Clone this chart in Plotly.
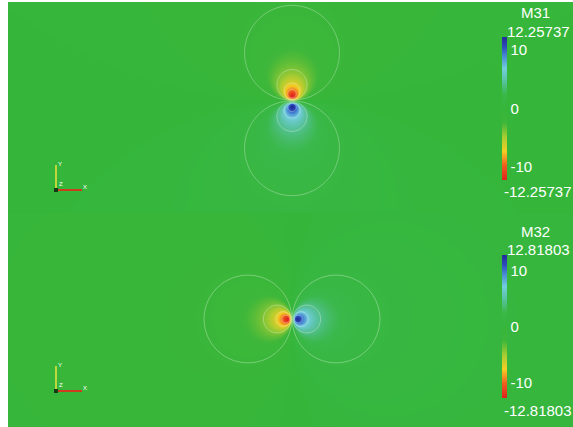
import numpy as np
import plotly.graph_objects as go

# Two dipole moment fields, each rendered as a colour map with iso-lines
FIELD_NAMES = ["M31", "M32"]
FIELD_MAX = [12.25737, 12.81803]      # symmetric data range of each field
CORE_RADIUS = [5.3, 4.9]              # regularisation radius of the dipole core
DIPOLE_AXIS = ["y", "x"]              # orientation of each dipole
COLORBAR_TICKS = [-10, 0, 10]
N_CONTOURS = 10

W, H = 573, 427
ML, MT = 8, 2
PW, PH = W - ML, H - MT
GREEN = "rgb(53,182,58)"

# blue - cyan - green - yellow - red map (high values blue)
COLORSCALE = [
    [0.00, "rgb(224,34,30)"],
    [0.10, "rgb(240,92,30)"],
    [0.20, "rgb(245,205,36)"],
    [0.30, "rgb(168,204,50)"],
    [0.40, "rgb(62,183,58)"],
    [0.50, GREEN],
    [0.60, "rgb(58,184,74)"],
    [0.69, "rgb(88,194,160)"],
    [0.78, "rgb(115,205,222)"],
    [0.87, "rgb(70,134,212)"],
    [0.93, "rgb(46,76,190)"],
    [1.00, "rgb(34,44,150)"],
]

FONT = "Liberation Sans"


def px(xp):
    return (xp - ML) / PW


def py(yp):
    return 1 - (yp - MT) / PH


def label(text, x, y, size=15, xanchor="left"):
    fig.add_annotation(x=px(x), y=py(y), text=text, showarrow=False,
                       xref="paper", yref="paper", xanchor=xanchor, yanchor="middle",
                       font=dict(family=FONT, size=size, color="white"))


# panel geometry (pixel centre of each dipole); the two views share one seam row
centres = [(292, 100.5), (292, 319)]
domains = [[0.496, 1.0], [0.0, 0.504]]
bars = [(37, 180), (255, 398)]

fig = go.Figure()

# continuous backdrop behind both render views
fig.add_shape(type="rect", xref="paper", yref="paper", x0=0, y0=0, x1=1, y1=1,
              fillcolor=GREEN, line=dict(width=0), layer="below")

axis_common = dict(showgrid=False, zeroline=False, showticklabels=False,
                   ticks="", showline=False)
layout_axes = {}

for i, name in enumerate(FIELD_NAMES):
    cx, cy = centres[i]
    top_px = MT + (1 - domains[i][1]) * PH
    bot_px = MT + (1 - domains[i][0]) * PH
    xr = [ML - cx, W - cx]
    yr = [cy - bot_px, cy - top_px]
    x = np.arange(np.floor(xr[0]) - 1, xr[1] + 2, 1.0)
    y = np.arange(np.floor(yr[0]) - 1, yr[1] + 2, 1.0)
    X, Y = np.meshgrid(x, y)
    a = CORE_RADIUS[i]
    vmax = FIELD_MAX[i]
    A = 2 * a * vmax
    r2 = X ** 2 + Y ** 2 + a ** 2
    if DIPOLE_AXIS[i] == "y":
        Z = -A * Y / r2
    else:
        Z = A * X / r2
    Z = np.round(Z, 3)

    sfx = "" if i == 0 else str(i + 1)
    xa, ya = "x" + sfx, "y" + sfx
    layout_axes["xaxis" + sfx] = dict(domain=[0, 1], range=xr, anchor=ya, **axis_common)
    layout_axes["yaxis" + sfx] = dict(domain=domains[i], range=yr, anchor=xa, **axis_common)

    b0, b1 = bars[i]
    fig.add_trace(go.Heatmap(
        x=x, y=y, z=Z, zmin=-vmax, zmax=vmax, zsmooth="best",
        colorscale=COLORSCALE, xaxis=xa, yaxis=ya,
        hoverinfo="skip",
        colorbar=dict(
            x=px(502), xanchor="left", xpad=0,
            y=py((b0 + b1) / 2), yanchor="middle", ypad=0,
            len=b1 - b0, lenmode="pixels", thickness=5,
            outlinewidth=0, ticks="", tickvals=COLORBAR_TICKS,
            ticktext=[str(t) for t in COLORBAR_TICKS],
            tickfont=dict(family=FONT, size=15, color="white"),
        ),
    ))
    step = 2 * vmax / (N_CONTOURS - 1)
    fig.add_trace(go.Contour(
        x=x, y=y, z=Z, xaxis=xa, yaxis=ya, showscale=False,
        contours=dict(start=-vmax, end=vmax, size=step, coloring="none"),
        line=dict(color="rgba(235,245,225,0.35)", width=1),
        hoverinfo="skip",
    ))

    # colour bar title and range labels
    label(name, 535, b0 - 24, xanchor="center")
    label(f"{vmax:.5f}", 505, b0 - 6)
    label(f"-{vmax:.5f}", 502, b1 + 12)

    # orientation glyph
    gx = 56
    gy = 190 if i == 0 else 391
    fig.add_shape(type="line", xref="paper", yref="paper",
                  x0=px(gx), y0=py(gy), x1=px(gx), y1=py(gy - 25),
                  line=dict(color="rgb(190,215,60)", width=2))
    fig.add_shape(type="line", xref="paper", yref="paper",
                  x0=px(gx), y0=py(gy), x1=px(gx + 26), y1=py(gy),
                  line=dict(color="rgb(205,60,30)", width=2))
    fig.add_shape(type="rect", xref="paper", yref="paper",
                  x0=px(gx - 2), y0=py(gy + 2), x1=px(gx + 2), y1=py(gy - 2),
                  fillcolor="rgb(20,60,20)", line=dict(width=0))
    for lbl, lx, ly in [("Y", gx + 4, gy - 26), ("X", gx + 29, gy - 3), ("Z", gx + 5, gy - 6)]:
        label(lbl, lx, ly, size=6, xanchor="center")

fig.update_layout(
    width=W, height=H,
    margin=dict(l=ML, r=0, t=MT, b=0, pad=0),
    paper_bgcolor="white", plot_bgcolor=GREEN,
    showlegend=False,
    **layout_axes,
)

fig.write_html("out.html")
